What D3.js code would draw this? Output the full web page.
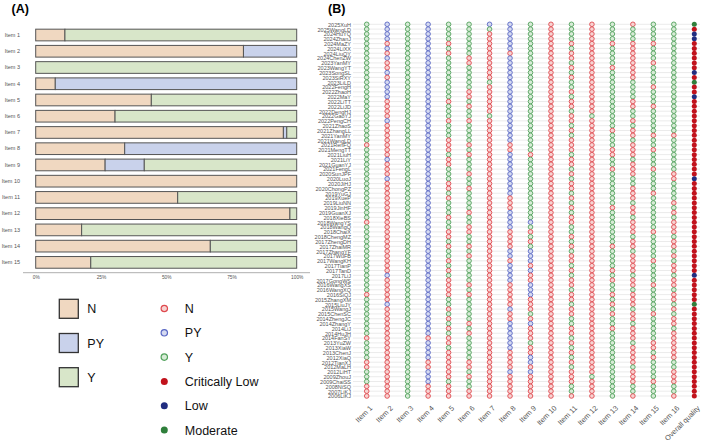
<!DOCTYPE html>
<html lang="en">
<head>
<meta charset="utf-8">
<title>AMSTAR 2 ratings</title>
<script src="https://d3js.org/d3.v7.min.js"></script>
<style type="text/css">
body { margin: 0; background: #fff; }
svg text { font-family: "Liberation Sans", Arial, sans-serif; }
.tiny text { fill: #555; }
</style>
</head>
<body>
<div id="main"></div>
<script type="text/javascript">
var width = 708;
var height = 446;

// ---- panel A: share of ratings per item (%)
var barItems = ["Item 1","Item 2","Item 3","Item 4","Item 5","Item 6","Item 7","Item 8",
                "Item 9","Item 10","Item 11","Item 12","Item 13","Item 14","Item 15"];
var pctN  = [11.2, 79.6, 0,   7.5, 44.3, 30.4, 94.9, 34.1, 26.6, 100, 54.4, 97.4, 17.6, 66.9, 21.1];
var pctPY = [0,    20.4, 0,  92.5, 0,    0,    1.3,  65.9, 15.0, 0,   0,    0,    0,    0,    0];
var pctY  = [88.8, 0,    100, 0,   55.7, 69.6, 3.8,  0,    58.4, 0,   45.6, 2.6,  82.4, 33.1, 78.9];
var pctTicks = [0, 25, 50, 75, 100];

// ---- panel B: one row per review, one column per item
var studies = ["2025XuH","2025WangLD","2024HuYQ","2024ZhanJ","2024MaZY","2024LiXX","2024LiuQY","2024ChenZW",
  "2023YanMY","2023WangYT","2023SongSL","2023SiRXY","2023LiLD","2022FengH","2022ZhaoH","2022MaY","2022LiTT",
  "2022LiJD","2022DengHJ","2022GaoYJ","2022PengCH","2021ZhaoS","2021ZhangLL","2021YanMY","2021WangLD",
  "2021RenFQ","2021MengTT","2021LiuH","2021LiY","2021GuanYJ","2021FengL","2020SunJPF","2020LuoJ","2020JiHJ",
  "2020ChongPZ","2019YuGJ","2019XueP","2019LiuNN","2019JinHF","2019GuanXJ","2018XieBS","2018WangYS",
  "2018WangQ","2018ChaiX","2018ChengMZ","2017ZhengDH","2017ZhaiMR","2017ZhangYF","2017WuFB","2017WangKH",
  "2017TianP","2017TanD","2017LiJ","2017GongWS","2016WangXS","2016WangXQ","2016SiQJ","2015ZhangXM",
  "2015LiuJY","2015WangJ","2015ChenSC","2014ZhengJC","2014ZhangY","2014LiJ","2014HuJH","2014FanSY",
  "2013YuZW","2013XiaW","2013ChenJ","2012XiaQ","2012TianXJ","2012MaLH","2012LiHT","2009ZhouJ",
  "2009ChaiSS","2008NiSQ","2007LiKJ","2006LiKJ"];

var items = ["Item 1","Item 2","Item 3","Item 4","Item 5","Item 6","Item 7","Item 8","Item 9","Item 10",
  "Item 11","Item 12","Item 13","Item 14","Item 15","Item 16","Overall quality"];

// N = no, P = partial yes, Y = yes ; overall: C = critically low, L = low, M = moderate
// each string runs down the rows above, in blocks of ten
var itemRatings = [
  "YYYYYYYYYY YYYYYYYYYY YYYYYNYYYY YYYYYYYYYY YNYYYYYYYY YYYYYYNYYY YYYYYNYYYY NNYYYNNN",
  "PPPPNPNPNN PNPPPPNNNN PNNNNNNNPN NNPNNNNNNN NNNNNNNNNN NNPNNNNNPN NNNNNNNNNN NNNNNNNN",
  "YYYYYYYYYY YYYYYYYYYY YYYYYYYYYY YYYYYYYYYY YYYYYYYYYY YYYYYYYYYY YYYYYYYYYY YYYYYYYY",
  "PPPPPPPPPP PPPPPPPPPP PPPPPPPPPP PPPPPPPPPP PPPPPPPPPP PPPPPPPPPP PPPPPNPPPP NNPPPNNN",
  "YYYYNYNYYY YYYYYYNYYY NYYYNNNYNN YYYNNYNYYY NYYNNYNYYN YNYNNNNYYN YNYNYNNYNN NNNNYNNN",
  "YYYYYYYNNY YYYYNNYNYY NYYYYNYNYY YNYYNYYYYN YYNNYYNYNY YYYYNYNYYY YYNYNYYYYY NNYNYYNN",
  "PYNNNNNNNN NNYNNNNNNY NNNNNNNNNN NNNNNNNNNN NNNNNNNNNN NNNNNNNNNN NNNNNNNNNN NNNNNNNN",
  "PPPPPPNPPP PPPPPPPPPP PPPPPNNPPP PPPPPPNNNP PPPNNNNPPN PPPPNNNNNP NNPPPPPPNN NNPNNNNN",
  "YYYYYYYYYY YYYYYYYYYY YYYYYYYNYY YYYYYYYYYY YPYNYNYPPP NPNNPPPNNN YNPNNNYNNP PNPNNNNN",
  "NNNNNNNNNN NNNNNNNNNN NNNNNNNNNN NNNNNNNNNN NNNNNNNNNN NNNNNNNNNN NNNNNNNNNN NNNNNNNN",
  "YYYYNYNNYN YNYYNYNNYN NYNYNNNYNN YNYNNYNYNY NNYYNYNYNN YNYNNYNNYN NYYNNYNYNY NYNNNYYN",
  "NNNNNNNNNN NNNNNNNNNY NNNNNNNNNN NNNNNNNNNN NNNNNNNNNN NNNNNNNNNN NNNNNNNNNN NNNYNNNN",
  "YYYYNYYYYN YYYYYYYYYY YYNYYYNNYY NYYYYYYYNY YYYYYYNYYY YNYNYYNYNY NYYNYYYYYY YYYYYYYY",
  "NYYYNNNNNN NNYYYYNNYY NYNNYNNNYN NNYYNNNYNN YNNNYNNYNN NNYNNYNNNY NNYNNNYNNN NYNNNYYN",
  "YYYYNYYYNY YYYNYYYNYY YYYNYYNYYY NYYYYNYYYY YYYNYYYYYN YYYYNYYYYY NYYYYYNNYN YYYYNYYY",
  "YYYYYYYYYY YYYYYYYYYY YYYNYYYYYY YNNYYYYNYN YNNNYNNYNY NNYNNYNNYN YNNYNNNNNN YYNNNYYN",
  "MCLLCCCCCC LCMCCLCCCC CCCCCCCCCC CCLCCCCCCC CCCCCCCCCC CCLCCCCCMC CCCCCCCCCC CCCCCCCC"
].map(function(s){ return s.replace(/ /g, ""); });

var ringStroke = {N: "#df4a4f", P: "#5a68c4", Y: "#52a25c"};
var ringFill   = {N: "#f7d3d2", P: "#d5daf1", Y: "#d7ebd6"};
var overallFill = {C: "#c1121c", L: "#212d80", M: "#2f7f3b"};
var barColor = {N: "#f0d8c1", PY: "#c9d2eb", Y: "#d8e6c9"};

var svg = d3.select("div#main")
            .append("svg")
            .attr("width", width)
            .attr("height", height);

// panel titles
svg.append("text").attr("x", 11.5).attr("y", 12.5).attr("font-size", 12.5).attr("font-weight", "bold").text("(A)");
svg.append("text").attr("x", 328).attr("y", 12.5).attr("font-size", 12.5).attr("font-weight", "bold").text("(B)");

// ---------------- panel A
var xA = d3.scaleLinear().domain([0, 100]).range([35.7, 296.7]);
var yA = d3.scaleBand().domain(barItems).range([26.9, 270.5]).paddingInner(0.28).paddingOuter(0.14);

var rows = barItems.map(function(d, i){ return {item: d, N: pctN[i], PY: pctPY[i], Y: pctY[i]}; });
var series = d3.stack().keys(["N", "PY", "Y"])(rows);

svg.append("g").selectAll("g")
   .data(series)
   .enter().append("g")
   .attr("fill", function(d){ return barColor[d.key]; })
   .selectAll("rect")
   .data(function(d){ return d.filter(function(v){ return v[1] > v[0]; }); })
   .enter().append("rect")
   .attr("x", function(d){ return xA(d[0]); })
   .attr("width", function(d){ return xA(d[1]) - xA(d[0]); })
   .attr("y", function(d){ return yA(d.data.item); })
   .attr("height", yA.bandwidth())
   .attr("stroke", "#555")
   .attr("stroke-width", 1);

var axLeftA = svg.append("g").attr("class", "tiny").attr("transform", "translate(23,0)")
   .call(d3.axisLeft(yA).tickSize(0).tickPadding(3));
axLeftA.select(".domain").remove();
axLeftA.selectAll("text").attr("font-size", 5.5);

svg.append("line").attr("x1", 23).attr("x2", 310).attr("y1", 272.7).attr("y2", 272.7)
   .attr("stroke", "#999").attr("stroke-width", 0.8);
var axBottomA = svg.append("g").attr("class", "tiny").attr("transform", "translate(0,272.7)")
   .call(d3.axisBottom(xA).tickValues(pctTicks).tickFormat(function(d){ return d + "%"; }).tickSize(0).tickPadding(3));
axBottomA.select(".domain").remove();
axBottomA.selectAll("text").attr("font-size", 4.8);

// legends
var boxKeys = ["N", "PY", "Y"];
var boxLegend = svg.append("g").selectAll("g").data(boxKeys).enter().append("g")
   .attr("transform", function(d, i){ return "translate(59.3," + (299.3 + i * 34.2) + ")"; });
boxLegend.append("rect").attr("width", 19).attr("height", 19)
   .attr("fill", function(d){ return barColor[d]; })
   .attr("stroke", "#333").attr("stroke-width", 1.3);
boxLegend.append("text").attr("x", 28).attr("y", 14).attr("font-size", 12.5).attr("fill", "#111")
   .text(function(d){ return d; });

var dotKeys = [["N", "N"], ["P", "PY"], ["Y", "Y"], ["C", "Critically Low"], ["L", "Low"], ["M", "Moderate"]];
var dotLegend = svg.append("g").selectAll("g").data(dotKeys).enter().append("g")
   .attr("transform", function(d, i){ return "translate(164.3," + (308.5 + i * 24.3) + ")"; });
dotLegend.append("circle")
   .attr("r", function(d){ return ringStroke[d[0]] ? 3.2 : 3.5; })
   .attr("fill", function(d){ return ringFill[d[0]] || overallFill[d[0]]; })
   .attr("stroke", function(d){ return ringStroke[d[0]] || "none"; })
   .attr("stroke-width", 1.2);
dotLegend.append("text").attr("x", 20.5).attr("y", 4.5).attr("font-size", 12.5).attr("fill", "#111")
   .text(function(d){ return d[1]; });

// ---------------- panel B
var xB = d3.scalePoint().domain(items).range([366.7, 694.3]);
var yB = d3.scalePoint().domain(studies).range([24.3, 396]);

svg.append("g").selectAll("line").data(studies).enter().append("line")
   .attr("x1", 353).attr("x2", 700)
   .attr("y1", function(d){ return yB(d); }).attr("y2", function(d){ return yB(d); })
   .attr("stroke", "#dedede").attr("stroke-width", 0.6);

var axLeftB = svg.append("g").attr("class", "tiny").attr("transform", "translate(353,0)")
   .call(d3.axisLeft(yB).tickSize(0).tickPadding(2));
axLeftB.select(".domain").remove();
axLeftB.selectAll("text").attr("font-size", 5.5).attr("dy", "0.34em");

var cells = [];
items.forEach(function(item, j){
    studies.forEach(function(s, i){
        cells.push({item: item, study: s, r: itemRatings[j].charAt(i)});
    });
});

svg.append("g").selectAll("circle")
   .data(cells)
   .enter().append("circle")
   .attr("cx", function(d){ return xB(d.item); })
   .attr("cy", function(d){ return yB(d.study); })
   .attr("r", function(d){ return ringStroke[d.r] ? 2.3 : 2.5; })
   .attr("fill", function(d){ return ringFill[d.r] || overallFill[d.r]; })
   .attr("stroke", function(d){ return ringStroke[d.r] || "none"; })
   .attr("stroke-width", 0.9);

var axBottomB = svg.append("g").attr("class", "tiny").attr("transform", "translate(0,405)")
   .call(d3.axisBottom(xB).tickSize(0).tickPadding(0));
axBottomB.select(".domain").remove();
axBottomB.selectAll("text")
   .attr("font-size", 7.3)
   .attr("fill", "#4d4d4d")
   .attr("text-anchor", "end")
   .attr("dy", "0.7em")
   .attr("transform", "translate(2,0) rotate(-45)");
</script>
</body>
</html>
